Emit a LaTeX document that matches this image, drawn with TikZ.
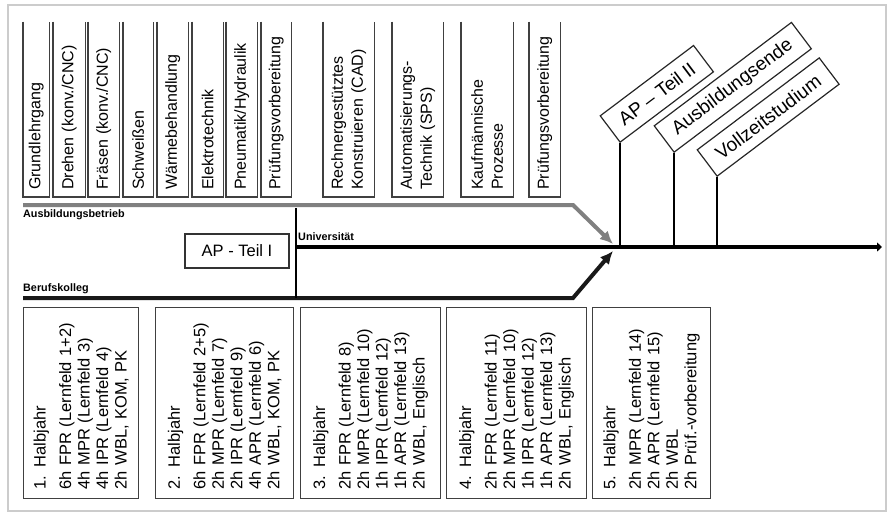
\documentclass[tikz,border=0pt]{standalone}
\usepackage{fontspec}
\setmainfont{Liberation Sans}
\usetikzlibrary{arrows.meta}

\begin{document}
\begin{tikzpicture}
    [
        x=1pt, y=-1pt,
        subject/.style={rotate=90, anchor=north west, minimum height=#1, text width=161pt, inner xsep=7pt, inner ysep=0pt, align=left, font=\fontsize{16}{20}\selectfont},
        semester/.style={rotate=90, anchor=north west, draw=black!75, line width=1.2pt, minimum height=#1, text width=173pt, inner xsep=9pt, inner ysep=0pt, align=left, font=\fontsize{16.5}{18.5}\selectfont},
        milestone/.style={rotate=37, anchor=south west, draw=black!85, line width=1.2pt, minimum height=33pt, inner xsep=13pt, inner ysep=0pt, font=\fontsize{19}{22}\selectfont},
        exam/.style={draw=black!80, line width=1.2pt, minimum width=104pt, minimum height=34pt, font=\fontsize{16.5}{20}\selectfont},
        lane/.style={anchor=west, inner sep=0pt, font=\bfseries\fontsize{10.8}{12}\selectfont},
        boxline/.style={draw=black!75, line width=1.2pt},
        stream/.style={line width=4pt, -{Latex[length=13pt,width=12pt]}},
        tick/.style={line width=1.6pt}
    ]
    \useasboundingbox (0,0) rectangle (889,515);
    \draw[black!20, line width=1.5pt] (8,5) rectangle (886,511);

    % Subjects (top)
    \node[subject=26pt] (grund) at (23,197) {Grundlehrgang};
    \node[subject=32pt] (drehen) at (53,197) {Drehen (konv./CNC)};
    \node[subject=31pt] (fraesen) at (88,197) {Fräsen (konv./CNC)};
    \node[subject=30pt] (schweissen) at (123,197) {Schweißen};
    \node[subject=31pt] (waerme) at (157,197) {Wärmebehandlung};
    \node[subject=31pt] (elektro) at (192,197) {Elektrotechnik};
    \node[subject=31pt] (pneumatik) at (226,197) {Pneumatik/Hydraulik};
    \node[subject=30pt] (pruefung) at (261,197) {Prüfungsvorbereitung};
    \node[subject=51pt] (cad) at (323,197) {Rechnergestütztes\\Konstruieren (CAD)};
    \node[subject=51pt] (sps) at (392,197) {Automatisierungs-\\Technik (SPS)};
    \node[subject=52pt] (kaufm) at (461,197) {Kaufmännische\\Prozesse};
    \node[subject=31pt] (pruefungII) at (529,197) {Prüfungsvorbereitung};
    \foreach \n in {grund,drehen,fraesen,schweissen,waerme,elektro,pneumatik,pruefung,cad,sps,kaufm,pruefungII}
        \draw[boxline] (\n.north east) -- (\n.north west) -- (\n.south west) -- (\n.south east);

    % Semesters (bottom)
    \node[semester=115pt] (sem1) at (23,499) {1. Halbjahr\\[7pt]6h FPR (Lernfeld 1+2)\\4h MPR (Lernfeld 3)\\4h IPR (Lernfeld 4)\\2h WBL, KOM, PK};
    \node[semester=138pt] (sem2) at (155,499) {2. Halbjahr\\[7pt]6h FPR (Lernfeld 2+5)\\2h MPR (Lernfeld 7)\\2h IPR (Lernfeld 9)\\4h APR (Lernfeld 6)\\2h WBL, KOM, PK};
    \node[semester=140pt] (sem3) at (300,499) {3. Halbjahr\\[7pt]2h FPR (Lernfeld 8)\\2h MPR (Lernfeld 10)\\1h IPR (Lernfeld 12)\\1h APR (Lernfeld 13)\\2h WBL, Englisch};
    \node[semester=140pt] (sem4) at (446,499) {4. Halbjahr\\[7pt]2h FPR (Lernfeld 11)\\2h MPR (Lernfeld 10)\\1h IPR (Lernfeld 12)\\1h APR (Lernfeld 13)\\2h WBL, Englisch};
    \node[semester=118pt] (sem5) at (592,499) {5. Halbjahr\\[7pt]2h MPR (Lernfeld 14)\\2h APR (Lernfeld 15)\\2h WBL\\2h Prüf.-vorbereitung};

    % Lanes
    \coordinate (betrieb) at (23,205);
    \coordinate (kolleg) at (23,298);
    \coordinate (teilung) at (296,208);
    \coordinate (uni) at (296,247);
    \coordinate (ziel) at (882,247);
    \coordinate (mergeTop) at (613,244);
    \coordinate (mergeBottom) at (613,251);
    \node[lane] (betriebText) at (23,215) {Ausbildungsbetrieb};
    \node[lane] (uniText) at (298,237) {Universität};
    \node[lane] (kollegText) at (23,289) {Berufskolleg};
    \node[exam] (apI) at (237,251) {AP - Teil I};

    % Milestones
    \node[milestone] (apII) at (620,143) {AP – Teil II};
    \node[milestone] (ende) at (674,153) {Ausbildungsende};
    \node[milestone] (studium) at (717,177) {Vollzeitstudium};

    % Arrows
    \draw[line width=4pt, -{Triangle[length=5pt,width=9pt]}] (uni) -- (ziel);
    \draw[stream, gray] (betrieb) -- (573,205) -- (mergeTop);
    \draw[stream, black!90] (kolleg) -- (573,298) -- (mergeBottom);
    \draw[line width=2pt] (teilung) -- (teilung |- kolleg);
    \draw[tick] (apII.south west) -- (apII.south west |- uni);
    \draw[tick] (ende.south west) -- (ende.south west |- uni);
    \draw[tick] (studium.south west) -- (studium.south west |- uni);
\end{tikzpicture}
\end{document}
